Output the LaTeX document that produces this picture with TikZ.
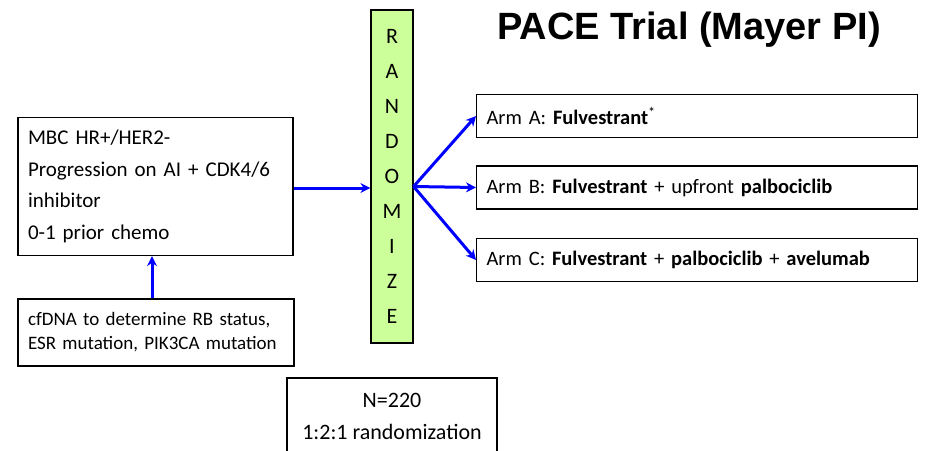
\documentclass[tikz,border=0pt]{standalone}
\usepackage{fontspec}
\setmainfont{Carlito}
\newfontfamily\titlefont{Liberation Sans}
\usetikzlibrary{arrows.meta}
\definecolor{randgreen}{RGB}{204,255,153}

\begin{document}
\begin{tikzpicture}[x=1pt,y=-1pt,
    box/.style={draw,line width=1.2pt,inner sep=0pt},
    link/.style={draw=blue,line width=3pt,-{Stealth[length=10pt,width=10pt]}}]
    \useasboundingbox (0,0) rectangle (944,450);
    \clip (0,0) rectangle (944,450);
    % title
    \node[anchor=base west,inner sep=0pt,font=\titlefont\bfseries\fontsize{38}{38}\selectfont] (title) at (497,39) {PACE Trial (Mayer PI)};
    % patients and screening
    \node[box,minimum width=275pt,minimum height=138pt,text width=255pt,align=left,font=\fontsize{21}{31.7}\selectfont] (mbc) at (155.5,186.5) {MBC HR+/HER2-\\Progression on AI + CDK4/6\\inhibitor\\0-1 prior chemo};
    \node[box,minimum width=276pt,minimum height=67pt,text width=256pt,align=left,font=\fontsize{19}{24}\selectfont] (cfdna) at (156,332.5) {cfDNA to determine RB status,\\ESR mutation, PIK3CA mutation};
    % randomization
    \node[box,fill=randgreen,minimum width=42pt,minimum height=333pt,align=center,font=\fontsize{22}{35}\selectfont] (rand) at (392,176.5) {R\\A\\N\\D\\O\\M\\I\\Z\\E};
    \node[box,minimum width=210pt,minimum height=76pt,align=center,font=\fontsize{22}{32}\selectfont] (size) at (392,416) {N=220\\1:2:1 randomization};
    % arms
    \node[box,anchor=west,minimum width=441pt,minimum height=43pt,text width=421pt,align=left,font=\fontsize{20.5}{26}\selectfont] (armA) at (476,116) {Arm A: \textbf{Fulvestrant}\textsuperscript{*}};
    \node[box,anchor=west,minimum width=441pt,minimum height=43pt,text width=421pt,align=left,font=\fontsize{20.5}{26}\selectfont] (armB) at (476,187.5) {Arm B: \textbf{Fulvestrant} + upfront \textbf{palbociclib}};
    \node[box,anchor=west,minimum width=441pt,minimum height=43pt,text width=421pt,align=left,font=\fontsize{20.5}{26}\selectfont] (armC) at (476,260) {Arm C: \textbf{Fulvestrant} + \textbf{palbociclib} + \textbf{avelumab}};
    % arrows
    \coordinate (fan) at ([yshift=-10pt]rand.east);
    \draw[link] ([yshift=-1.5pt]mbc.east) -- ([yshift=-1.5pt]mbc.east -| rand.west);
    \draw[link] ([xshift=-4pt]cfdna.north) -- ([xshift=-4pt]cfdna.north |- mbc.south);
    \draw[link] (fan) -- (armA.west);
    \draw[link] (fan) -- (armB.west);
    \draw[link] (fan) -- (armC.west);
\end{tikzpicture}
\end{document}
